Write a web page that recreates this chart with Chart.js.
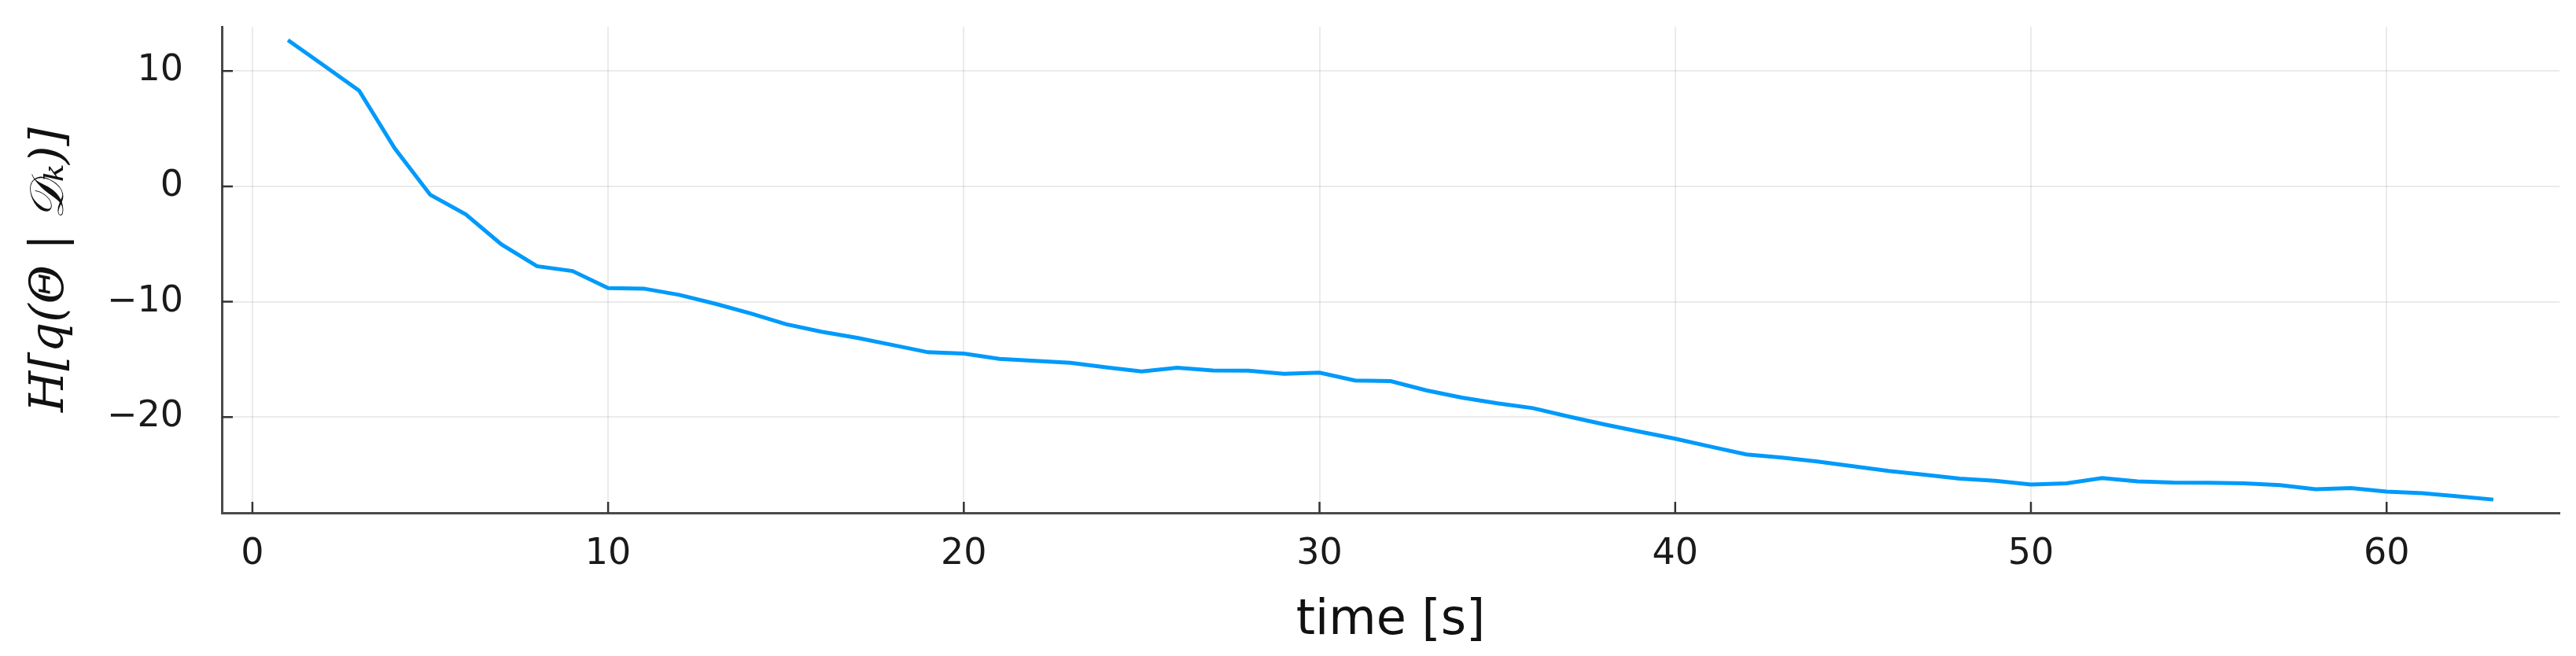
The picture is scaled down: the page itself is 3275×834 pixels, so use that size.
<!DOCTYPE html>
<html>
<head>
<meta charset="utf-8">
<script src="https://cdn.jsdelivr.net/npm/chart.js@4/dist/chart.umd.min.js"></script>
<style>
	body { margin: 0; background: white; }
	canvas { display: block; }
</style>
</head>
<body>
<canvas id="myChart" width="3275" height="834"></canvas>
<script>
// time steps and entropy values
const times = [1,2,3,4,5,6,7,8,9,10,11,12,13,14,15,16,17,18,19,20,21,22,23,24,25,26,27,28,29,30,31,32,
	33,34,35,36,37,38,39,40,41,42,43,44,45,46,47,48,49,50,51,52,53,54,55,56,57,58,59,60,61,62,63];
const entropy = [12.68,10.5,8.3,3.3,-0.73,-2.43,-5.03,-6.92,-7.34,-8.81,-8.86,-9.4,-10.16,-11.0,-11.94,-12.6,
	-13.13,-13.75,-14.38,-14.5,-14.95,-15.13,-15.29,-15.68,-16.04,-15.72,-15.95,-15.97,-16.24,-16.15,-16.83,-16.88,
	-17.68,-18.31,-18.81,-19.22,-19.95,-20.63,-21.26,-21.87,-22.56,-23.24,-23.51,-23.85,-24.26,-24.67,-24.99,-25.33,
	-25.52,-25.85,-25.74,-25.28,-25.58,-25.67,-25.69,-25.74,-25.9,-26.26,-26.15,-26.46,-26.6,-26.87,-27.15];
const xTicks = [0, 10, 20, 30, 40, 50, 60];
const yTicks = [-20, -10, 0, 10];
const xLabel = "time [s]";
const yLabel = "H[q(Θ | 𝒟ₖ)]";

const points = times.map((t, i) => ({ x: t, y: entropy[i] }));

// Plots.jl style inward tick marks
const innerTicks = {
	id: 'innerTicks',
	afterDraw(chart) {
		const ctx = chart.ctx;
		const { x, y } = chart.scales;
		const area = chart.chartArea;
		ctx.save();
		ctx.strokeStyle = '#333333';
		ctx.lineWidth = 2.5;
		ctx.beginPath();
		xTicks.forEach(v => {
			const px = x.getPixelForValue(v);
			ctx.moveTo(px, area.bottom);
			ctx.lineTo(px, area.bottom - 14);
		});
		yTicks.forEach(v => {
			const py = y.getPixelForValue(v);
			ctx.moveTo(area.left, py);
			ctx.lineTo(area.left + 14, py);
		});
		ctx.stroke();
		ctx.restore();
	}
};

// fixed box sizes so the plot area sits where it does in the figure
function fitX(scale) {
	scale.height = 182;
	scale.paddingLeft = 0;
	scale.paddingRight = 0;
}
function fitY(scale) {
	scale.width = 282;
	scale.paddingTop = 0;
	scale.paddingBottom = 0;
}

const ctx = document.getElementById('myChart').getContext('2d');
new Chart(ctx, {
	type: 'line',
	data: {
		datasets: [{
			data: points,
			borderColor: '#009AFA',
			borderWidth: 5,
			pointRadius: 0,
			fill: false,
			tension: 0,
		}]
	},
	options: {
		responsive: false,
		animation: false,
		layout: { padding: { top: 34, right: 21, left: 0, bottom: 0 } },
		plugins: { legend: { display: false }, tooltip: { enabled: false } },
		scales: {
			x: {
				type: 'linear',
				min: -0.86,
				max: 64.86,
				afterBuildTicks: scale => { scale.ticks = xTicks.map(v => ({ value: v })); },
				afterFit: fitX,
				grid: { color: 'rgba(0,0,0,0.08)', lineWidth: 2, drawTicks: false },
				border: { display: true, color: '#4a4a4a', width: 3 },
				ticks: {
					padding: 25,
					color: '#1a1a1a',
					maxRotation: 0,
					font: { family: 'DejaVu Sans', size: 46 },
				},
				title: {
					display: true,
					text: xLabel,
					color: '#111111',
					font: { family: 'DejaVu Sans', size: 62 },
					padding: { top: 0, bottom: 7 },
				},
			},
			y: {
				type: 'linear',
				min: -28.3,
				max: 13.84,
				afterBuildTicks: scale => { scale.ticks = yTicks.map(v => ({ value: v })); },
				afterFit: fitY,
				grid: { color: 'rgba(0,0,0,0.08)', lineWidth: 2, drawTicks: false },
				border: { display: true, color: '#4a4a4a', width: 3 },
				ticks: {
					padding: 49,
					color: '#1a1a1a',
					font: { family: 'DejaVu Sans', size: 46 },
					callback: v => String(v).replace('-', '\u2212'),
				},
				title: {
					display: true,
					text: yLabel,
					color: '#111111',
					font: { family: 'DejaVu Serif', size: 60, style: 'italic' },
					padding: { top: 28, bottom: 0 },
				},
			},
		},
	},
	plugins: [innerTicks],
});
</script>
</body>
</html>
